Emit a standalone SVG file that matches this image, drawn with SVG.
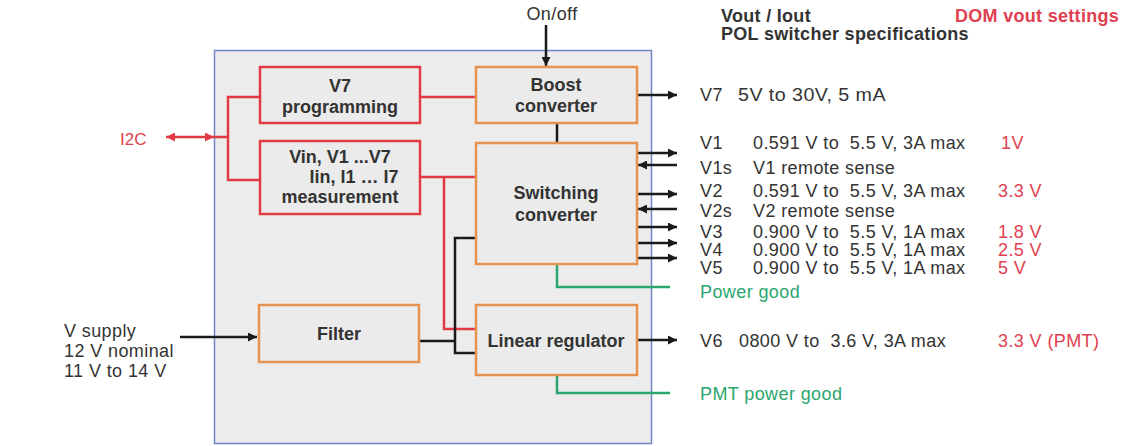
<svg xmlns="http://www.w3.org/2000/svg" width="1138" height="446" viewBox="0 0 1138 446">
<style>
text{font-family:"Liberation Sans",Arial,sans-serif;fill:#333}
.b{font-weight:bold;font-size:18px}
.n{font-size:18px;letter-spacing:0.4px}
.t{letter-spacing:0.3px}
.c{text-anchor:middle}
.r{fill:#e0404f}
.g{fill:#2aa66e}
.boxr{fill:#ebebeb;stroke:#e23a45;stroke-width:2.5}
.boxo{fill:#ebebeb;stroke:#e8924f;stroke-width:2.5}
.k{fill:none;stroke:#1a1a1a;stroke-width:2.5}
.rl{fill:none;stroke:#e23a45;stroke-width:2.5}
.gl{fill:none;stroke:#2aa66e;stroke-width:2.5}
</style>
<defs>
<marker id="ak" viewBox="0 0 10 10" refX="10" refY="5" markerWidth="11" markerHeight="9" markerUnits="userSpaceOnUse" orient="auto-start-reverse"><path d="M0,0L10,5L0,10z" fill="#1a1a1a"/></marker>
<marker id="ar" viewBox="0 0 10 10" refX="10" refY="5" markerWidth="11" markerHeight="9" markerUnits="userSpaceOnUse" orient="auto-start-reverse"><path d="M0,0L10,5L0,10z" fill="#e23a45"/></marker>
</defs>
<rect id="container" x="214.5" y="50.5" width="437" height="393" fill="#ececec" stroke="#6f87c4" stroke-width="1.5"/>
<g id="connectors">
<path class="k" d="M546,25V66" marker-end="url(#ak)"/>
<path class="k" d="M557,123V143"/>
<path class="rl" d="M420,97H476"/>
<path class="rl" d="M260,97H228V180H260"/>
<path class="rl" d="M166,137H214" marker-start="url(#ar)" marker-end="url(#ar)"/>
<path class="rl" d="M214,137H228"/>
<path class="rl" d="M420,177H476"/>
<path class="rl" d="M444,177V329H476"/>
<path class="k" d="M420,341H455"/>
<path class="k" d="M476,238H455V353H476"/>
<path class="k" d="M180,337H257" marker-end="url(#ak)"/>
<path class="k" d="M637,95H677" marker-end="url(#ak)"/>
<path class="k" d="M637,153H677" marker-end="url(#ak)"/>
<path class="k" d="M677,165H638" marker-end="url(#ak)"/>
<path class="k" d="M637,194H677" marker-end="url(#ak)"/>
<path class="k" d="M677,209H638" marker-end="url(#ak)"/>
<path class="k" d="M637,227H677" marker-end="url(#ak)"/>
<path class="k" d="M637,243H677" marker-end="url(#ak)"/>
<path class="k" d="M637,258H677" marker-end="url(#ak)"/>
<path class="k" d="M637,340H677" marker-end="url(#ak)"/>
<path class="gl" d="M557,264V287H670"/>
<path class="gl" d="M557,375V393H670"/>
</g>
<g id="v7prog"><rect class="boxr" x="260" y="67" width="160" height="56"/><text class="b c" x="340" y="92">V7</text><text class="b c" x="340" y="113">programming</text></g>
<g id="meas"><rect class="boxr" x="260" y="141" width="160" height="73"/><text class="b c" x="340" y="163">Vin, V1 ...V7</text><text class="b c" x="354" y="183">Iin, I1 … I7</text><text class="b c" x="340" y="203">measurement</text></g>
<g id="boost"><rect class="boxo" x="476" y="67" width="161" height="56"/><text class="b c" x="556" y="91">Boost</text><text class="b c" x="556" y="112">converter</text></g>
<g id="switching"><rect class="boxo" x="476" y="143" width="161" height="121"/><text class="b c" x="556" y="199">Switching</text><text class="b c" x="556" y="221">converter</text></g>
<g id="filter"><rect class="boxo" x="259" y="305" width="160" height="57"/><text class="b c" x="339" y="340">Filter</text></g>
<g id="linreg"><rect class="boxo" x="476" y="305" width="161" height="70"/><text class="b c" x="556" y="347">Linear regulator</text></g>
<g id="labels">
<text class="n c" x="552" y="20">On/off</text>
<text class="r" x="120" y="145" style="font-size:17px">I2C</text>
<text class="n" x="64" y="337">V supply</text>
<text class="n" x="64" y="357">12 V nominal</text>
<text class="n" x="64" y="377">11 V to 14 V</text>
<text class="b t" x="721" y="22">Vout / Iout</text>
<text class="b t" x="721" y="40">POL switcher specifications</text>
<text class="b r t" x="955" y="22">DOM vout settings</text>
<text class="n" x="700" y="101">V7</text><text class="n" x="738" y="101" textLength="148" lengthAdjust="spacingAndGlyphs">5V to 30V, 5 mA</text>
<text class="n" x="700" y="149">V1</text><text class="n" x="753" y="149" xml:space="preserve">0.591 V to  5.5 V, 3A max</text><text class="n r" x="1001" y="149">1V</text>
<text class="n" x="700" y="174">V1s</text><text class="n" x="753" y="174">V1 remote sense</text>
<text class="n" x="700" y="197">V2</text><text class="n" x="753" y="197" xml:space="preserve">0.591 V to  5.5 V, 3A max</text><text class="n r" x="998" y="197">3.3 V</text>
<text class="n" x="700" y="217">V2s</text><text class="n" x="753" y="217">V2 remote sense</text>
<text class="n" x="700" y="238">V3</text><text class="n" x="753" y="238" xml:space="preserve">0.900 V to  5.5 V, 1A max</text><text class="n r" x="998" y="238">1.8 V</text>
<text class="n" x="700" y="256">V4</text><text class="n" x="753" y="256" xml:space="preserve">0.900 V to  5.5 V, 1A max</text><text class="n r" x="998" y="256">2.5 V</text>
<text class="n" x="700" y="274">V5</text><text class="n" x="753" y="274" xml:space="preserve">0.900 V to  5.5 V, 1A max</text><text class="n r" x="998" y="274">5 V</text>
<text class="n g" x="700" y="298">Power good</text>
<text class="n" x="700" y="347">V6</text><text class="n" x="739" y="347" xml:space="preserve">0800 V to  3.6 V, 3A max</text><text class="n r" x="998" y="347">3.3 V (PMT)</text>
<text class="n g" x="700" y="400">PMT power good</text>
</g>
</svg>
